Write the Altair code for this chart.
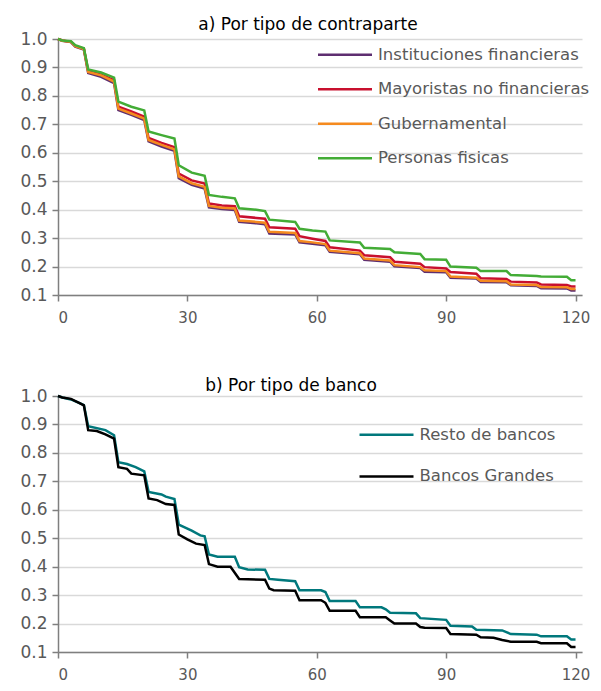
import altair as alt
import pandas as pd

# ---------------- Panel a: por tipo de contraparte ----------------
title_a = "a) Por tipo de contraparte"
series_a = ["Instituciones financieras", "Mayoristas no financieras", "Gubernamental", "Personas fisicas"]
colors_a = ["#5E2E70", "#C8102E", "#F58A1F", "#43AC36"]

days_a = [0, 1, 3, 4, 6, 7, 10, 13, 14, 17, 20, 21, 24, 27, 28, 31, 34, 35, 38, 41, 42, 46, 48, 49,
          55, 56, 59, 62, 63, 70, 71, 77, 78, 84, 85, 90, 91, 97, 98, 104, 105, 111, 112, 118, 119, 120]

inst_fin = [1.0, 0.994, 0.989, 0.973, 0.963, 0.88, 0.867, 0.845, 0.75, 0.733, 0.715, 0.64, 0.622, 0.607,
            0.511, 0.487, 0.474, 0.408, 0.402, 0.399, 0.357, 0.352, 0.349, 0.316, 0.313, 0.285, 0.28,
            0.275, 0.252, 0.243, 0.224, 0.217, 0.201, 0.195, 0.182, 0.18, 0.161, 0.158, 0.146, 0.145,
            0.134, 0.132, 0.124, 0.123, 0.116, 0.116]
mayoristas = [1.0, 0.995, 0.99, 0.976, 0.966, 0.888, 0.875, 0.855, 0.762, 0.745, 0.727, 0.652, 0.635, 0.62,
              0.527, 0.503, 0.492, 0.422, 0.415, 0.412, 0.377, 0.371, 0.368, 0.338, 0.333, 0.307, 0.298,
              0.29, 0.268, 0.256, 0.24, 0.233, 0.217, 0.21, 0.198, 0.193, 0.181, 0.175, 0.159, 0.156,
              0.147, 0.144, 0.137, 0.135, 0.13, 0.13]
gubernamental = [1.0, 0.994, 0.99, 0.975, 0.965, 0.884, 0.872, 0.85, 0.755, 0.738, 0.72, 0.645, 0.628, 0.612,
                 0.517, 0.493, 0.48, 0.413, 0.407, 0.404, 0.362, 0.357, 0.354, 0.322, 0.318, 0.29, 0.285,
                 0.279, 0.256, 0.247, 0.228, 0.221, 0.205, 0.198, 0.187, 0.184, 0.165, 0.161, 0.15, 0.148,
                 0.137, 0.135, 0.128, 0.127, 0.121, 0.121]
personas = [1.0, 0.995, 0.992, 0.978, 0.968, 0.893, 0.882, 0.864, 0.78, 0.762, 0.749, 0.675, 0.662, 0.65,
            0.556, 0.53, 0.519, 0.452, 0.445, 0.44, 0.405, 0.4, 0.395, 0.365, 0.357, 0.333, 0.327,
            0.323, 0.292, 0.285, 0.266, 0.262, 0.25, 0.244, 0.226, 0.224, 0.2, 0.196, 0.184, 0.184,
            0.17, 0.167, 0.165, 0.164, 0.152, 0.152]

# ---------------- Panel b: por tipo de banco ----------------
title_b = "b) Por tipo de banco"
series_b = ["Resto de bancos", "Bancos Grandes"]
colors_b = ["#00787C", "#000000"]

resto_days = [0, 1, 3, 5, 6, 7, 11, 13, 14, 16, 18, 20, 21, 24, 25, 27, 28, 31, 33, 34, 35, 37, 41, 42,
              44, 48, 49, 51, 55, 56, 61, 62, 63, 69, 70, 75, 76, 77, 83, 84, 90, 91, 96, 97, 103, 105,
              111, 112, 118, 119, 120]
resto_vals = [1.0, 0.995, 0.988, 0.975, 0.968, 0.894, 0.88, 0.862, 0.767, 0.761, 0.75, 0.735, 0.663, 0.654,
              0.646, 0.638, 0.548, 0.527, 0.51, 0.507, 0.443, 0.435, 0.435, 0.398, 0.39, 0.389, 0.357,
              0.354, 0.349, 0.317, 0.317, 0.311, 0.279, 0.279, 0.257, 0.257, 0.25, 0.238, 0.236, 0.219,
              0.213, 0.192, 0.19, 0.178, 0.176, 0.163, 0.161, 0.155, 0.155, 0.144, 0.144]

grandes_days = [0, 1, 3, 5, 6, 7, 9, 11, 13, 14, 16, 17, 20, 21, 23, 25, 27, 28, 30, 32, 34, 35, 37, 40,
                42, 44, 48, 49, 50, 55, 56, 61, 62, 63, 69, 70, 76, 77, 78, 83, 84, 85, 90, 91, 97, 98,
                101, 103, 105, 111, 112, 118, 119, 120]
grandes_vals = [1.0, 0.995, 0.99, 0.975, 0.967, 0.88, 0.877, 0.865, 0.85, 0.75, 0.744, 0.727, 0.721, 0.64,
                0.634, 0.62, 0.617, 0.513, 0.496, 0.481, 0.476, 0.409, 0.4, 0.4, 0.357, 0.356, 0.354,
                0.323, 0.317, 0.315, 0.282, 0.282, 0.273, 0.245, 0.245, 0.222, 0.222, 0.211, 0.2, 0.2,
                0.188, 0.185, 0.184, 0.163, 0.161, 0.152, 0.15, 0.142, 0.136, 0.136, 0.131, 0.131,
                0.118, 0.118]

x_ticks = [0, 30, 60, 90, 120]
y_ticks = [0.1, 0.2, 0.3, 0.4, 0.5, 0.6, 0.7, 0.8, 0.9, 1.0]


def long_df(pairs):
    rows = []
    for k, (name, days, vals) in enumerate(pairs):
        for d, v in zip(days, vals):
            rows.append({"serie": name, "dia": d, "valor": v, "k": k})
    return pd.DataFrame(rows)


df_a = long_df([(series_a[0], days_a, inst_fin), (series_a[1], days_a, mayoristas),
                (series_a[2], days_a, gubernamental), (series_a[3], days_a, personas)])
df_b = long_df([(series_b[0], resto_days, resto_vals), (series_b[1], grandes_days, grandes_vals)])

FONT = "DejaVu Sans"


def panel(df, names, colors, title, title_offset, title_dx, lx, ly, rowpad):
    return alt.Chart(df).mark_line(strokeWidth=2.5).encode(
        x=alt.X("dia:Q", scale=alt.Scale(domain=[0, 121.5], nice=False, zero=False),
                axis=alt.Axis(values=x_ticks, title=None, grid=False, labelPadding=9,
                              labelFontSize=15)),
        y=alt.Y("valor:Q", scale=alt.Scale(domain=[0.1, 1.0], nice=False, zero=False),
                axis=alt.Axis(values=y_ticks, format=".1f", title=None, grid=True,
                              labelPadding=5, labelFontSize=17)),
        color=alt.Color("serie:N", scale=alt.Scale(domain=names, range=colors), sort=names,
                        legend=alt.Legend(title=None, orient="none", legendX=lx, legendY=ly,
                                          direction="vertical", symbolType="M-2,0L2,0",
                                          symbolSize=729, symbolStrokeWidth=2.5,
                                          labelFont=FONT, labelFontSize=16.5, labelColor="#595959",
                                          labelOffset=18, rowPadding=rowpad, padding=0,
                                          labelLimit=400)),
        order=alt.Order("k:Q"),
    ).properties(
        width=524, height=256,
        title=alt.TitleParams(title, font=FONT, fontSize=17, fontWeight="normal", color="#000000",
                              anchor="middle", offset=title_offset, dx=title_dx),
    )


top = panel(df_a, series_a, colors_a, title_a, -4, -12, 272, 0.8, 10.5)
bottom = panel(df_b, series_b, colors_b, title_b, -8, -29, 313.5, 23.8, 17.6)

chart = alt.vconcat(top, bottom, spacing=52).resolve_scale(
    color="independent"
).resolve_legend(color="independent").properties(
    padding={"left": 11, "top": 8, "right": 0, "bottom": 0}
).configure_view(stroke=None).configure_axis(
    labelFont=FONT, labelColor="#595959", domainColor="#7f7f7f", domainWidth=1.5,
    tickColor="#7f7f7f", tickSize=6, tickWidth=1.5, gridColor="#d9d9d9", gridWidth=1.5,
)

chart.save("out.html", embed_options={"renderer": "svg", "actions": False})
